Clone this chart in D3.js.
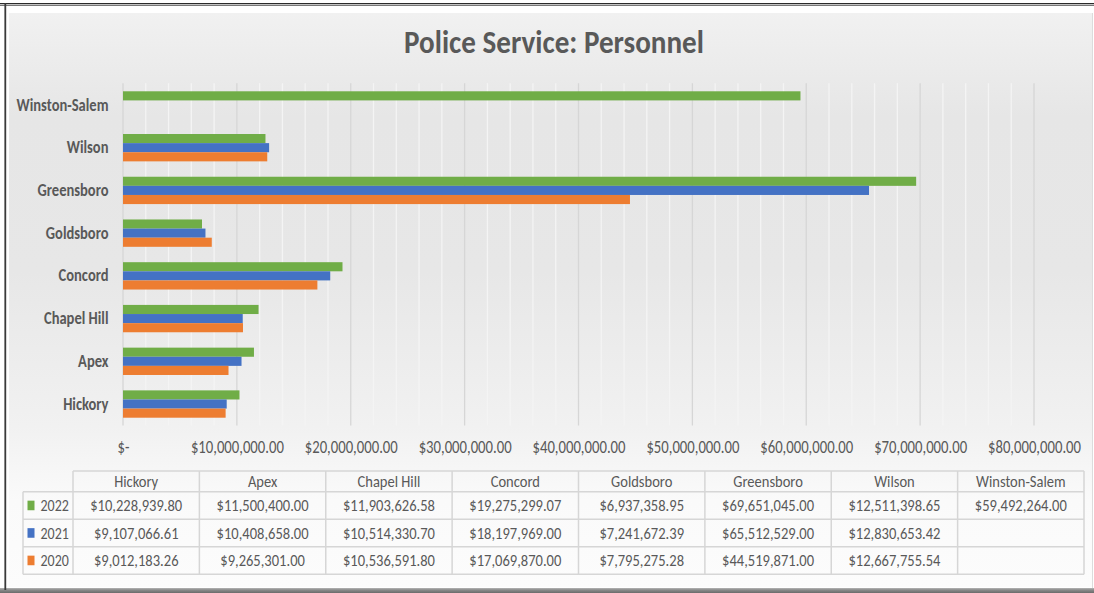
<!DOCTYPE html>
<html>
<head>
<meta charset="utf-8">
<script src="https://cdn.jsdelivr.net/npm/d3@7"></script>
<style>
  html, body { margin: 0; padding: 0; background: #fff; }
  svg { display: block; }
  text { font-family: Carlito, Lato, "Open Sans", sans-serif; fill: #595959; }
</style>
</head>
<body>
<svg id="chart" width="1094" height="593"></svg>
<script>
// ---------- data ----------
const categories = ["Hickory", "Apex", "Chapel Hill", "Concord", "Goldsboro", "Greensboro", "Wilson", "Winston-Salem"];
const seriesNames = ["2022", "2021", "2020"];
const values2022 = [10228939.80, 11500400.00, 11903626.58, 19275299.07, 6937358.95, 69651045.00, 12511398.65, 59492264.00];
const values2021 = [9107066.61, 10408658.00, 10514330.70, 18197969.00, 7241672.39, 65512529.00, 12830653.42, null];
const values2020 = [9012183.26, 9265301.00, 10536591.80, 17069870.00, 7795275.28, 44519871.00, 12667755.54, null];
const xTickValues = [0, 10000000, 20000000, 30000000, 40000000, 50000000, 60000000, 70000000, 80000000];
const minorStep = 2000000;
const seriesColors = { "2022": "#70AD47", "2021": "#4472C4", "2020": "#ED7D31" };
const titleText = "Police Service: Personnel";

const seriesValues = { "2022": values2022, "2021": values2021, "2020": values2020 };

// ---------- setup ----------
const W = 1094, H = 593;
const svg = d3.select("#chart");
const defs = svg.append("defs");

const grad = defs.append("linearGradient").attr("id", "bg").attr("x1", 0).attr("y1", 0).attr("x2", 0).attr("y2", 1);
[[0, "#f1f1f1"], [0.18, "#e6e6e6"], [0.45, "#e7e7e7"], [0.72, "#f1f1f1"], [0.85, "#fafafa"], [1, "#fcfcfc"]]
  .forEach(([o, c]) => grad.append("stop").attr("offset", o).attr("stop-color", c));

const bgrad = defs.append("linearGradient").attr("id", "bottomShade").attr("x1", 0).attr("y1", 0).attr("x2", 0).attr("y2", 1);
[[0, "#b5b5b5"], [0.4, "#8a8a8a"], [1, "#6a6a6a"]]
  .forEach(([o, c]) => bgrad.append("stop").attr("offset", o).attr("stop-color", c));

// frame / background
svg.append("rect").attr("x", 0).attr("y", 0).attr("width", W).attr("height", H).attr("fill", "#ffffff");
svg.append("rect").attr("x", 7).attr("y", 6).attr("width", W - 7).attr("height", 583).attr("fill", "#ffffff");
svg.append("rect").attr("x", 9).attr("y", 13).attr("width", W - 11).attr("height", 574).attr("fill", "url(#bg)");
svg.append("rect").attr("x", 0).attr("y", 588).attr("width", W).attr("height", 5).attr("fill", "url(#bottomShade)");
svg.append("line").attr("x1", 0).attr("x2", W).attr("y1", 3.5).attr("y2", 3.5).attr("stroke", "#2a2a2a").attr("stroke-width", 1.2);
svg.append("line").attr("x1", 0).attr("x2", W).attr("y1", 5.2).attr("y2", 5.2).attr("stroke", "#3a3a3a").attr("stroke-width", 1);
svg.append("line").attr("x1", 5.3).attr("x2", 5.3).attr("y1", 3).attr("y2", 590).attr("stroke", "#3a3a3a").attr("stroke-width", 1.8);
svg.append("line").attr("x1", 1092.5).attr("x2", 1092.5).attr("y1", 13).attr("y2", 588).attr("stroke", "#dcdcdc").attr("stroke-width", 1);

// helper: horizontally condense a class of text to match a reference width
function condenseFactor(sample, fontSize, weight, target) {
  const t = svg.append("text").attr("x", -1000).attr("y", -1000)
    .style("font-size", fontSize + "px").style("font-weight", weight).text(sample);
  const w = t.node().getComputedTextLength();
  t.remove();
  return target / w;
}

// ---------- title ----------
const titleSize = 33;
const titleSx = condenseFactor(titleText, titleSize, "bold", 300);
svg.append("text")
  .attr("transform", `translate(554,52.5) scale(${titleSx},1)`)
  .attr("text-anchor", "middle")
  .style("font-size", titleSize + "px").style("font-weight", "bold")
  .text(titleText);

// ---------- scales ----------
const plotTop = 83.6, plotBottom = 425.4, plotLeft = 123, plotRight = 1034;
const x = d3.scaleLinear().domain([0, 80000000]).range([plotLeft, plotRight]);
const y = d3.scaleBand().domain(categories.slice().reverse()).range([plotTop, plotBottom])
  .paddingInner(0.36).paddingOuter(0.18);
const ySub = d3.scaleBand().domain(seriesNames).range([0, y.bandwidth()]);

// ---------- gridlines ----------
const minorTicks = d3.range(0, 80000000 + 1, minorStep).filter(v => v % 10000000 !== 0);
svg.append("g").selectAll("line").data(minorTicks).join("line")
  .attr("x1", d => x(d)).attr("x2", d => x(d))
  .attr("y1", plotTop - 0.3).attr("y2", plotBottom)
  .attr("stroke", "#f4f4f4").attr("stroke-width", 1.3);
svg.append("g").selectAll("line").data(xTickValues).join("line")
  .attr("x1", d => x(d)).attr("x2", d => x(d))
  .attr("y1", plotTop - 0.3).attr("y2", plotBottom)
  .attr("stroke", "#d6d6d6").attr("stroke-width", 1.3);

// ---------- bars ----------
const barData = [];
categories.forEach((c, i) => {
  seriesNames.forEach(s => {
    const v = seriesValues[s][i];
    if (v != null) barData.push({ cat: c, series: s, value: v });
  });
});
svg.append("g").selectAll("rect").data(barData).join("rect")
  .attr("x", x(0))
  .attr("y", d => y(d.cat) + ySub(d.series))
  .attr("width", d => x(d.value) - x(0))
  .attr("height", ySub.bandwidth())
  .attr("fill", d => seriesColors[d.series]);

// ---------- category labels ----------
const catSize = 17;
const catSx = condenseFactor("Winston-Salem", catSize, "bold", 92);
svg.append("g").selectAll("text").data(categories).join("text")
  .attr("transform", d => `translate(108.5,${y(d) + y.bandwidth() / 2 + 5.6}) scale(${catSx},1)`)
  .attr("text-anchor", "end")
  .style("font-size", catSize + "px").style("font-weight", "bold")
  .text(d => d);

// ---------- x axis ----------
const money = d3.format("$,.2f");
const axisSize = 17.5;
const axisSx = condenseFactor("$10,000,000.00", axisSize, "normal", 93);
const xAxis = d3.axisBottom(x).tickValues(xTickValues)
  .tickFormat(d => d === 0 ? "$-" : money(d)).tickSize(0).tickPadding(0);
const axisG = svg.append("g").attr("transform", `translate(0,${plotBottom})`).call(xAxis);
axisG.select(".domain").remove();
axisG.selectAll("text")
  .attr("y", 0).attr("dy", null)
  .attr("transform", `translate(0,27.5) scale(${axisSx},1)`)
  .attr("fill", "#595959")
  .style("font-size", axisSize + "px")
  .style("font-family", "Carlito, Lato, 'Open Sans', sans-serif");

// ---------- data table ----------
const tblLeft = 23, keyColRight = 73, tblRight = 1084;
const rowEdges = [471, 491.7, 519.2, 546.7, 574.2];
const col = d3.scaleBand().domain(categories).range([keyColRight, tblRight]);
const tblSize = 16.5;
const valSx = condenseFactor("$10,228,939.80", tblSize, "normal", 92);
const hdrSx = condenseFactor("Hickory", tblSize, "normal", 44);
const keySx = condenseFactor("2022", tblSize, "normal", 28.3);
const lineColor = "#d6d6d6", lineW = 1.5;
const tbl = svg.append("g");

// horizontal lines
tbl.append("line").attr("x1", keyColRight).attr("x2", tblRight).attr("y1", rowEdges[0]).attr("y2", rowEdges[0])
  .attr("stroke", lineColor).attr("stroke-width", lineW);
rowEdges.slice(1).forEach(yy => {
  tbl.append("line").attr("x1", tblLeft).attr("x2", tblRight).attr("y1", yy).attr("y2", yy)
    .attr("stroke", lineColor).attr("stroke-width", lineW);
});
// vertical lines
tbl.append("line").attr("x1", tblLeft).attr("x2", tblLeft).attr("y1", rowEdges[1]).attr("y2", rowEdges[4])
  .attr("stroke", lineColor).attr("stroke-width", lineW);
[keyColRight].concat(categories.map(c => col(c) + col.bandwidth())).forEach(xx => {
  tbl.append("line").attr("x1", xx).attr("x2", xx).attr("y1", rowEdges[0]).attr("y2", rowEdges[4])
    .attr("stroke", lineColor).attr("stroke-width", lineW);
});

// header
tbl.selectAll("text.hdr").data(categories).join("text").attr("class", "hdr")
  .attr("transform", d => `translate(${col(d) + col.bandwidth() / 2},${(rowEdges[0] + rowEdges[1]) / 2 + 5.6}) scale(${hdrSx},1)`)
  .attr("text-anchor", "middle").style("font-size", tblSize + "px")
  .text(d => d);

// rows
seriesNames.forEach((s, r) => {
  const yc = (rowEdges[r + 1] + rowEdges[r + 2]) / 2;
  tbl.append("rect").attr("x", 27.5).attr("y", yc - 4.8).attr("width", 7).attr("height", 9.6)
    .attr("fill", seriesColors[s]);
  tbl.append("text")
    .attr("transform", `translate(40.5,${yc + 6}) scale(${keySx},1)`)
    .style("font-size", tblSize + "px").text(s);
  const rowData = categories.map((c, i) => ({ cat: c, v: seriesValues[s][i] })).filter(d => d.v != null);
  tbl.append("g").selectAll("text").data(rowData).join("text")
    .attr("transform", d => `translate(${col(d.cat) + col.bandwidth() / 2},${yc + 6}) scale(${valSx},1)`)
    .attr("text-anchor", "middle").style("font-size", tblSize + "px")
    .text(d => money(d.v));
});
</script>
</body>
</html>
